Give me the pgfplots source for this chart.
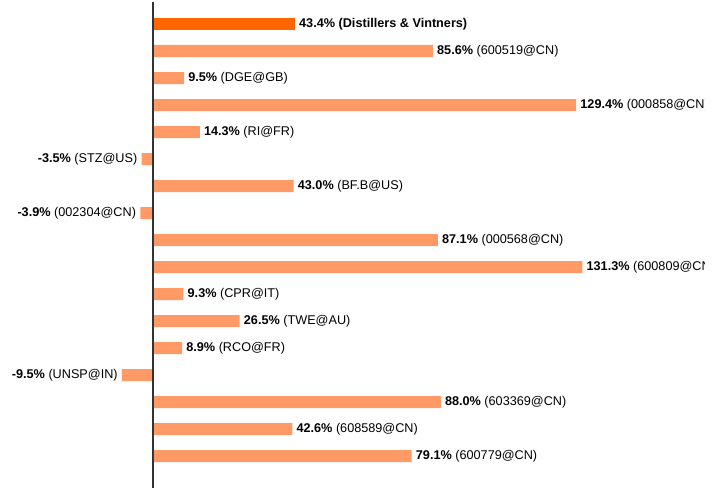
\documentclass[border=0pt]{standalone}
\usepackage{pgfplots}
\pgfplotsset{compat=1.18}
\usepackage{fontspec}
\setmainfont{Liberation Sans}
\definecolor{hi}{HTML}{FF6600}
\definecolor{lo}{HTML}{FF9966}
\definecolor{axc}{HTML}{333333}
\begin{document}
\begin{tikzpicture}
\path[use as bounding box] (0,0) rectangle (540pt,366pt);
\clip (0,0) rectangle (528pt,366pt);
\begin{axis}[at={(0,0)}, anchor=south west, scale only axis,
  width=540pt, height=366pt,
  xmin=-46.79, xmax=173.39, ymin=-0.889, ymax=17.185, y dir=reverse,
  hide axis, clip=false,
  xbar, bar width=9pt, bar shift=0pt,
  point meta=explicit symbolic,
  nodes near coords,
  every node near coord/.append style={font=\fontsize{9.5}{11}\selectfont, text=black, inner sep=3pt},
]
\addplot[fill=hi, draw=none, nodes near coords style={anchor=west}] coordinates {
  (43.4,0) [\textbf{43.4\% (Distillers \& Vintners)}]
};
\addplot[fill=lo, draw=none, nodes near coords style={anchor=west}] coordinates {
  (85.6,1) [\textbf{85.6\%} (600519@CN)]
  (9.5,2) [\textbf{9.5\%} (DGE@GB)]
  (129.4,3) [\textbf{129.4\%} (000858@CN)]
  (14.3,4) [\textbf{14.3\%} (RI@FR)]
  (43.0,6) [\textbf{43.0\%} (BF.B@US)]
  (87.1,8) [\textbf{87.1\%} (000568@CN)]
  (131.3,9) [\textbf{131.3\%} (600809@CN)]
  (9.3,10) [\textbf{9.3\%} (CPR@IT)]
  (26.5,11) [\textbf{26.5\%} (TWE@AU)]
  (8.9,12) [\textbf{8.9\%} (RCO@FR)]
  (88.0,14) [\textbf{88.0\%} (603369@CN)]
  (42.6,15) [\textbf{42.6\%} (608589@CN)]
  (79.1,16) [\textbf{79.1\%} (600779@CN)]
};
\addplot[fill=lo, draw=none, nodes near coords style={anchor=east}] coordinates {
  (-3.5,5) [\textbf{-3.5\%} (STZ@US)]
  (-3.9,7) [\textbf{-3.9\%} (002304@CN)]
  (-9.5,13) [\textbf{-9.5\%} (UNSP@IN)]
};
\draw[axc, line width=1.5pt] (axis cs:0,-0.8) -- (axis cs:0,17.3);
\end{axis}
\end{tikzpicture}
\end{document}
